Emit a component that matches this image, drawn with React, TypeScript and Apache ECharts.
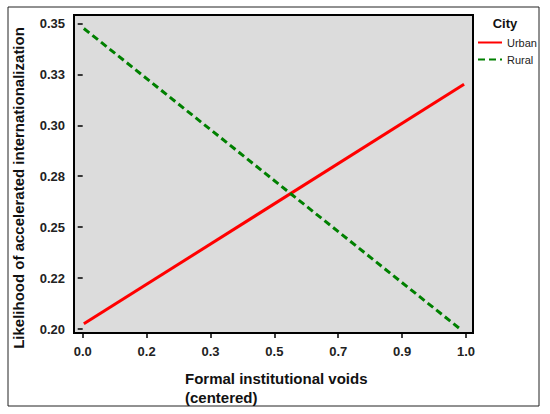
import React, { useEffect, useRef } from "react";
import * as echarts from "echarts";

const X_TICKS = [0, 0.1667, 0.3333, 0.5, 0.6667, 0.8333, 1];
const X_LABELS = ["0.0", "0.2", "0.3", "0.5", "0.7", "0.9", "1.0"];
const Y_TICKS = [0.2, 0.225, 0.25, 0.275, 0.3, 0.325, 0.35];
const Y_LABELS = ["0.20", "0.22", "0.25", "0.28", "0.30", "0.33", "0.35"];

const URBAN_X = [0.003, 0.995];
const URBAN_Y = [0.2026, 0.3201];
const RURAL_X = [0.003, 0.9825];
const RURAL_Y = [0.3475, 0.2004];

const SERIES_NAMES = ["Urban", "Rural"];
const LEGEND_TITLE = "City";
const X_TITLE = "Formal institutional voids\n(centered)";
const Y_TITLE = "Likelihood of accelerated internationalization";

const FONT = "Arial, 'Liberation Sans', sans-serif";

function pick(ticks: number[], labels: string[], v: number) {
  const i = ticks.findIndex((t) => Math.abs(t - v) < 1e-3);
  return i >= 0 ? labels[i] : "";
}

export default function App() {
  const ref = useRef<HTMLDivElement>(null);
  useEffect(() => {
    if (!ref.current) return;
    const chart = echarts.init(ref.current, null, { renderer: "svg" });
    chart.setOption({
      animation: false,
      backgroundColor: "#ffffff",
      grid: {
        left: 74,
        top: 15,
        width: 399,
        height: 318,
        show: true,
        backgroundColor: "#dcdcdc",
        borderColor: "#000000",
        borderWidth: 2,
      },
      xAxis: {
        type: "value",
        min: -0.0227,
        max: 1.0183,
        axisLine: { show: false },
        splitLine: { show: false },
        axisTick: {
          show: true,
          length: 5,
          customValues: X_TICKS,
          lineStyle: { color: "#000", width: 1.5 },
        },
        axisLabel: {
          customValues: X_TICKS,
          margin: 12,
          fontFamily: FONT,
          fontSize: 13,
          fontWeight: "bold",
          color: "#222",
          formatter: (v: number) => pick(X_TICKS, X_LABELS, v),
        },
      },
      yAxis: {
        type: "value",
        min: 0.1981,
        max: 0.3541,
        axisLine: { show: false },
        splitLine: { show: false },
        axisTick: {
          show: true,
          length: 5,
          customValues: Y_TICKS,
          lineStyle: { color: "#000", width: 1.5 },
        },
        axisLabel: {
          customValues: Y_TICKS,
          margin: 9,
          fontFamily: FONT,
          fontSize: 13,
          fontWeight: "bold",
          color: "#222",
          formatter: (v: number) => pick(Y_TICKS, Y_LABELS, v),
        },
      },
      legend: {
        orient: "vertical",
        left: 477,
        top: 37,
        padding: 0,
        itemWidth: 24,
        itemHeight: 12,
        itemGap: 6,
        itemStyle: { opacity: 0 },
        textStyle: { fontFamily: FONT, fontSize: 11, color: "#222" },
        data: SERIES_NAMES,
      },
      graphic: [
        {
          type: "rect",
          shape: { x: 8, y: 7, width: 531, height: 399 },
          style: { fill: "none", stroke: "#222", lineWidth: 1 },
          silent: true,
        },
        {
          type: "text",
          x: 18,
          y: 188,
          rotation: Math.PI / 2,
          style: {
            text: Y_TITLE,
            font: `bold 15px ${FONT}`,
            fill: "#111",
            align: "center",
            verticalAlign: "middle",
          },
        },
        {
          type: "text",
          x: 185,
          y: 369,
          style: {
            text: X_TITLE,
            font: `bold 15px ${FONT}`,
            lineHeight: 19,
            fill: "#111",
            align: "left",
            verticalAlign: "top",
          },
        },
        {
          type: "text",
          x: 505,
          y: 23,
          style: {
            text: LEGEND_TITLE,
            font: `bold 13px ${FONT}`,
            fill: "#111",
            align: "center",
            verticalAlign: "middle",
          },
        },
      ],
      series: [
        {
          name: SERIES_NAMES[0],
          type: "line",
          symbol: "none",
          data: URBAN_X.map((x, i) => [x, URBAN_Y[i]]),
          lineStyle: { color: "#ff0000", width: 3 },
          itemStyle: { color: "#ff0000" },
        },
        {
          name: SERIES_NAMES[1],
          type: "line",
          symbol: "none",
          data: RURAL_X.map((x, i) => [x, RURAL_Y[i]]),
          lineStyle: { color: "#008000", width: 3, type: [7, 4] },
          itemStyle: { color: "#008000" },
        },
      ],
    });
    return () => chart.dispose();
  }, []);
  return (
    <div
      ref={ref}
      style={{ position: "fixed", left: 0, top: 0, width: 550, height: 414 }}
    />
  );
}
